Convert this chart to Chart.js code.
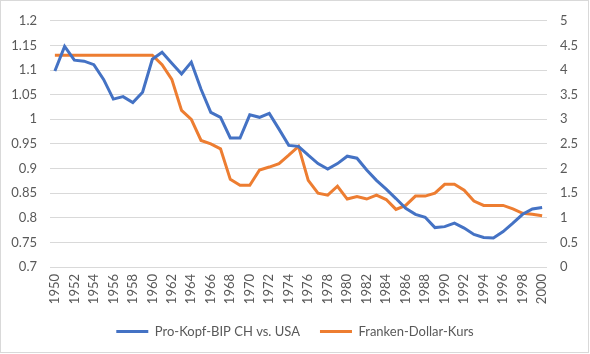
<!DOCTYPE html>
<html>
<head>
<meta charset="utf-8">
<script src="https://cdn.jsdelivr.net/npm/chart.js@4.4.1/dist/chart.umd.min.js"></script>
<style>
  html, body { margin: 0; padding: 0; background: #fff; }
  #wrap { position: relative; width: 590px; height: 354px; }
  #frame {
    position: absolute; left: 0; top: 0; width: 589px; height: 353px;
    box-sizing: border-box; border: 1px solid #d9d9d9; pointer-events: none;
  }
</style>
</head>
<body>
<div id="wrap">
  <canvas id="chart" width="590" height="354"></canvas>
  <div id="frame"></div>
</div>
<script>
// --- Data ---
const years = [];
for (let y = 1950; y <= 2000; y++) years.push(String(y));

// Pro-Kopf-BIP CH vs. USA (left axis)
const gdpRatio = [
  1.098, 1.148, 1.120, 1.118, 1.111, 1.081, 1.041, 1.046, 1.034, 1.055,
  1.122, 1.136, 1.114, 1.092, 1.116, 1.061, 1.014, 1.004, 0.962, 0.962,
  1.009, 1.004, 1.012, 0.980, 0.947, 0.945, 0.927, 0.910, 0.899, 0.910,
  0.925, 0.921, 0.897, 0.876, 0.858, 0.839, 0.819, 0.807, 0.801, 0.780,
  0.782, 0.789, 0.779, 0.766, 0.760, 0.759, 0.772, 0.789, 0.807, 0.818,
  0.821
];

// Franken-Dollar-Kurs (right axis)
const chfUsd = [
  4.30, 4.30, 4.30, 4.30, 4.30, 4.30, 4.30, 4.30, 4.30, 4.30,
  4.30, 4.11, 3.81, 3.18, 3.00, 2.57, 2.50, 2.40, 1.78, 1.66,
  1.66, 1.97, 2.03, 2.10, 2.27, 2.45, 1.76, 1.50, 1.46, 1.64,
  1.38, 1.43, 1.38, 1.46, 1.37, 1.17, 1.25, 1.44, 1.44, 1.50,
  1.68, 1.68, 1.56, 1.34, 1.25, 1.25, 1.25, 1.18, 1.09, 1.07,
  1.04
];

const seriesNames = ['Pro-Kopf-BIP CH vs. USA', 'Franken-Dollar-Kurs'];
const seriesColors = ['#4472C4', '#ED7D31'];

const FONT = 'Lato, "Open Sans", sans-serif';
const TEXT = '#595959';
const GRID = '#d9d9d9';

new Chart(document.getElementById('chart'), {
  type: 'line',
  data: {
    labels: years,
    datasets: [
      {
        label: seriesNames[0],
        data: gdpRatio,
        borderColor: seriesColors[0],
        backgroundColor: seriesColors[0],
        borderWidth: 3,
        pointRadius: 0,
        tension: 0,
        yAxisID: 'y',
      },
      {
        label: seriesNames[1],
        data: chfUsd,
        borderColor: seriesColors[1],
        backgroundColor: seriesColors[1],
        borderWidth: 3,
        pointRadius: 0,
        tension: 0,
        yAxisID: 'y2',
      },
    ],
  },
  options: {
    responsive: false,
    animation: false,
    layout: { padding: { top: 17, left: 0, right: 0, bottom: 6 } },
    plugins: {
      tooltip: { enabled: false },
      legend: {
        position: 'bottom',
        labels: {
          color: TEXT,
          font: { family: FONT, size: 13 },
          usePointStyle: true,
          pointStyle: 'line',
          pointStyleWidth: 32,
          boxHeight: 13,
          padding: 20,
        },
      },
    },
    scales: {
      x: {
        offset: true,
        grid: { display: false, drawTicks: false },
        border: { display: false },
        ticks: {
          color: TEXT,
          font: { family: FONT, size: 13 },
          autoSkip: false,
          minRotation: 90,
          maxRotation: 90,
          padding: 7,
          callback: (v, i) => (i % 2 === 0 ? years[i] : ''),
        },
        afterFit: s => { s.height = 38; },
      },
      y: {
        position: 'left',
        min: 0.7,
        max: 1.2,
        grid: { color: GRID, drawTicks: false },
        border: { display: false },
        ticks: {
          stepSize: 0.05,
          color: TEXT,
          font: { family: FONT, size: 13 },
          padding: 13,
          callback: v => String(+v.toFixed(2)),
        },
        afterFit: s => { s.width = 50; },
      },
      y2: {
        position: 'right',
        min: 0,
        max: 5,
        grid: { display: false, drawTicks: false },
        border: { display: false },
        ticks: {
          stepSize: 0.5,
          color: TEXT,
          font: { family: FONT, size: 13 },
          padding: 13,
          callback: v => String(+v.toFixed(1)),
        },
        afterFit: s => { s.width = 43; },
      },
    },
  },
});
</script>
</body>
</html>
